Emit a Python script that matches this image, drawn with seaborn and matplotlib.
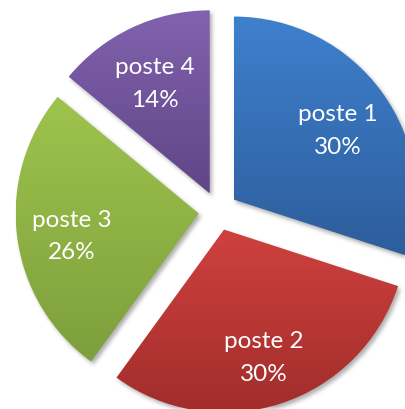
import numpy as np
import matplotlib
matplotlib.use("Agg")
import matplotlib.pyplot as plt
import matplotlib.transforms as mtransforms
import seaborn as sns
from matplotlib.colors import LinearSegmentedColormap

# Data
labels = ["poste 1", "poste 2", "poste 3", "poste 4"]
shares = [30, 30, 26, 14]

# Per-slice vertical gradient (top colour -> bottom colour)
top_colors = ["#3F80CE", "#CF413E", "#9EC44D", "#8262AE"]
bottom_colors = ["#2D5D9B", "#A12D2B", "#7D9F3C", "#5F4586"]

sns.set_theme(style="white")
plt.rcParams["font.family"] = ["Lato", "DejaVu Sans"]

W, H = 406, 410
fig = plt.figure(figsize=(W / 100, H / 100), dpi=100)
ax = fig.add_axes([0, 0, 1, 1])

R = 183
wedges, _, autotexts = ax.pie(
    shares,
    radius=R,
    center=(218, 198),
    startangle=90,
    counterclock=False,
    explode=[19.5] * len(shares),
    autopct=lambda p: f"{p:.0f}%",
    pctdistance=0.70,
    wedgeprops=dict(linewidth=0),
    textprops=dict(color="white", fontsize=17.5, linespacing=1.7,
                   fontweight="normal"),
    frame=True,
)

ax.set_xlim(0, W)
ax.set_ylim(0, H)
ax.set_aspect("auto")
ax.set_autoscale_on(False)
ax.axis("off")

# Labels: category name above the percentage, nudged slightly down
nudge = mtransforms.ScaledTranslation(0, -6 / 100, fig.dpi_scale_trans)
for t, lab in zip(autotexts, labels):
    t.set_text(f"{lab}\n{t.get_text()}")
    t.set_zorder(5)
    t.set_transform(t.get_transform() + nudge)

# Gradient fill clipped to each wedge
grad = np.linspace(0, 1, 256)[:, None]
for w, c0, c1 in zip(wedges, top_colors, bottom_colors):
    bb = w.get_path().get_extents()
    cmap = LinearSegmentedColormap.from_list("slice", [c0, c1])
    im = ax.imshow(grad, cmap=cmap, extent=(bb.x0, bb.x1, bb.y0, bb.y1),
                   origin="upper", aspect="auto", interpolation="bicubic",
                   zorder=2)
    im.set_clip_path(w)
    w.set_facecolor("none")
    w.set_zorder(1)

# Soft drop shadow under the slices
xs = np.arange(W) + 0.5
ys = np.arange(H) + 0.5
gx, gy = np.meshgrid(xs, ys)
pts = np.column_stack([gx.ravel() - 2.5, gy.ravel() + 3.0])
mask = np.zeros(W * H, dtype=float)
for w in wedges:
    mask = np.maximum(mask, w.get_path().contains_points(pts).astype(float))
mask = mask.reshape(H, W)

def box_blur(a, r):
    k = np.ones(2 * r + 1) / (2 * r + 1)
    a = np.apply_along_axis(lambda m: np.convolve(m, k, mode="same"), 0, a)
    a = np.apply_along_axis(lambda m: np.convolve(m, k, mode="same"), 1, a)
    return a

mask = box_blur(box_blur(mask, 2), 2)
shadow = np.zeros((H, W, 4))
shadow[..., :3] = 0.3
shadow[..., 3] = mask * 0.45
ax.imshow(shadow, extent=(0, W, 0, H), origin="lower", aspect="auto",
          interpolation="bilinear", zorder=0.5)

ax.set_xlim(0, W)
ax.set_ylim(0, H)

fig.savefig("out.png", dpi=100)
